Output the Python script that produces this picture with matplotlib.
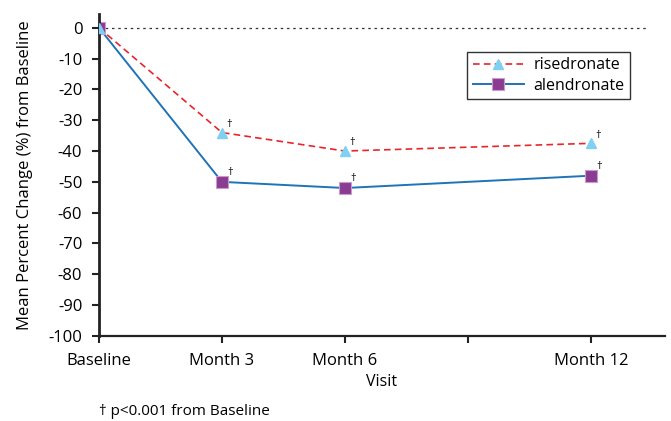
import matplotlib.pyplot as plt

months = [0, 3, 6, 12]
tick_months = [0, 3, 6, 9, 12]
tick_labels = ["Baseline", "Month 3", "Month 6", "", "Month 12"]
risedronate = [0, -34, -40, -37.5]
alendronate = [0, -50, -52, -48]
yticks = list(range(0, -101, -10))


def main():
    plt.rcParams["font.family"] = ["Open Sans", "DejaVu Sans"]
    fig = plt.figure(figsize=(6.71, 4.21), dpi=100)
    ax = fig.add_axes([0.1475, 0.202, 0.843, 0.765])

    ax.axhline(0, color="#333333", lw=0.9, ls=(0, (2, 3)), xmax=0.973, zorder=1)
    ax.plot(months, risedronate, color="#E8252A", lw=1.2, ls=(0, (4, 2.5)),
            marker="^", ms=7, mfc="#7FD0F2", mec="#7FD0F2", label="risedronate", zorder=3)
    ax.plot(months, alendronate, color="#1F73B7", lw=1.4,
            marker="s", ms=9, mfc="#8A3C93", mec="#C89BCB", mew=0.8, label="alendronate", zorder=2)

    for x, y in zip(months[1:], risedronate[1:]):
        ax.annotate("\u2020", (x, y), xytext=(3, 4), textcoords="offset points", fontsize=8)
    for x, y in zip(months[1:], alendronate[1:]):
        ax.annotate("\u2020", (x, y), xytext=(4, 5), textcoords="offset points", fontsize=8)

    ax.set_xlim(0, 13.8)
    ax.set_ylim(-100, 4.5)
    ax.set_xticks(tick_months)
    ax.set_xticklabels(tick_labels, fontsize=12)
    ax.set_yticks(yticks)
    ax.set_yticklabels([str(v) for v in yticks], fontsize=12)
    for side in ("top", "right"):
        ax.spines[side].set_visible(False)
    ax.spines["left"].set_linewidth(2)
    ax.spines["bottom"].set_linewidth(1.6)
    ax.spines["left"].set_color("#222222")
    ax.spines["bottom"].set_color("#222222")
    ax.tick_params(length=5, width=1.5, color="#222222", pad=7)
    ax.set_xlabel("Visit", fontsize=11.5, labelpad=4)
    ax.set_ylabel("Mean Percent Change (%) from Baseline", fontsize=12, labelpad=11)

    leg = ax.legend(loc="upper right", bbox_to_anchor=(0.953, 0.908), fontsize=11.5,
                    fancybox=False, edgecolor="#333333", framealpha=1,
                    handlelength=3.2, borderpad=0.35, labelspacing=0.3, handletextpad=0.6)
    leg.get_frame().set_linewidth(1)

    fig.text(0.147, 0.015, "\u2020 p<0.001 from Baseline", fontsize=11)
    fig.savefig("out.png", dpi=100)


if __name__ == "__main__":
    main()
